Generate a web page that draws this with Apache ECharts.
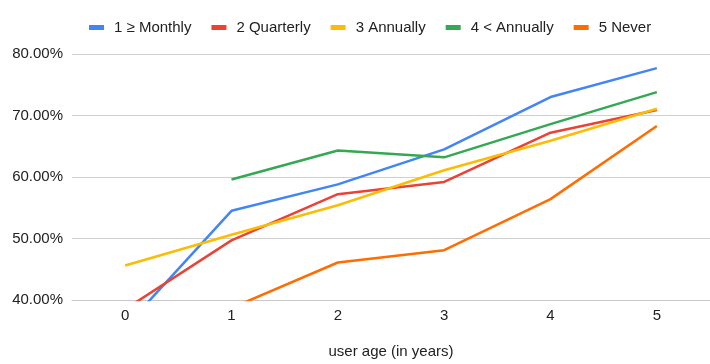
<!DOCTYPE html>
<html>
<head>
<meta charset="utf-8">
<script src="https://cdn.jsdelivr.net/npm/echarts@6/dist/echarts.min.js"></script>
<style>
  html, body { margin: 0; padding: 0; background: #fff; }
  #chart { width: 710px; height: 364px; }
</style>
</head>
<body>
<div id="chart"></div>
<script>
// User age buckets on the x axis
const ages = ['0', '1', '2', '3', '4', '5'];

// Share (%) per usage frequency group
const monthly   = [35.6, 54.5, 58.8, 64.5, 73.0, 77.7];
const quarterly = [38.5, 49.7, 57.2, 59.2, 67.2, 70.9];
const annually  = [45.6, 50.6, 55.4, 61.1, 65.9, 71.1];
const lessAnnually = [null, 59.6, 64.3, 63.2, 68.6, 73.8];
const never     = [null, 38.7, 46.1, 48.1, 56.4, 68.3];

const seriesNames = ['1 \u2265 Monthly', '2 Quarterly', '3 Annually', '4 < Annually', '5 Never'];
const seriesData = [monthly, quarterly, annually, lessAnnually, never];
const colors = ['#4285F4', '#EA4335', '#FBBC04', '#34A853', '#FF6D01'];

const yTicks = { min: 40, max: 80, step: 10 };

const font = 'Liberation Sans, Arial, Helvetica, sans-serif';
const chart = echarts.init(document.getElementById('chart'), null, { renderer: 'canvas' });

chart.setOption({
  animation: false,
  color: colors,
  textStyle: { fontFamily: font },
  legend: {
    top: 15,
    left: 84,
    itemWidth: 15,
    itemHeight: 5,
    itemGap: 20,
    icon: 'rect',
    textStyle: { fontSize: 15, color: '#222', fontFamily: font, padding: [0, 0, 0, 5] },
    data: seriesNames
  },
  grid: { left: 72, right: -2, top: 54, bottom: 58, containLabel: false },
  xAxis: {
    type: 'category',
    data: ages,
    boundaryGap: true,
    name: 'user age (in years)',
    nameLocation: 'middle',
    nameGap: 44,
    nameTextStyle: { fontSize: 15, color: '#222', fontFamily: font },
    axisLine: { show: true, lineStyle: { color: '#c8c8c8', width: 1 } },
    axisTick: { show: false },
    axisLabel: { fontSize: 15, color: '#222', margin: 8, fontFamily: font }
  },
  yAxis: {
    type: 'value',
    min: yTicks.min,
    max: yTicks.max,
    interval: yTicks.step,
    axisLine: { show: false },
    axisTick: { show: false },
    splitLine: { lineStyle: { color: '#d0d0d0', width: 1 } },
    axisLabel: {
      fontSize: 15,
      color: '#222',
      margin: 9,
      fontFamily: font,
      formatter: v => v.toFixed(2) + '%'
    }
  },
  series: seriesData.map((d, i) => ({
    name: seriesNames[i],
    type: 'line',
    data: d,
    showSymbol: false,
    symbol: 'none',
    clip: true,
    connectNulls: false,
    lineStyle: { width: 2.5, color: colors[i] },
    itemStyle: { color: colors[i] }
  }))
});
</script>
</body>
</html>
